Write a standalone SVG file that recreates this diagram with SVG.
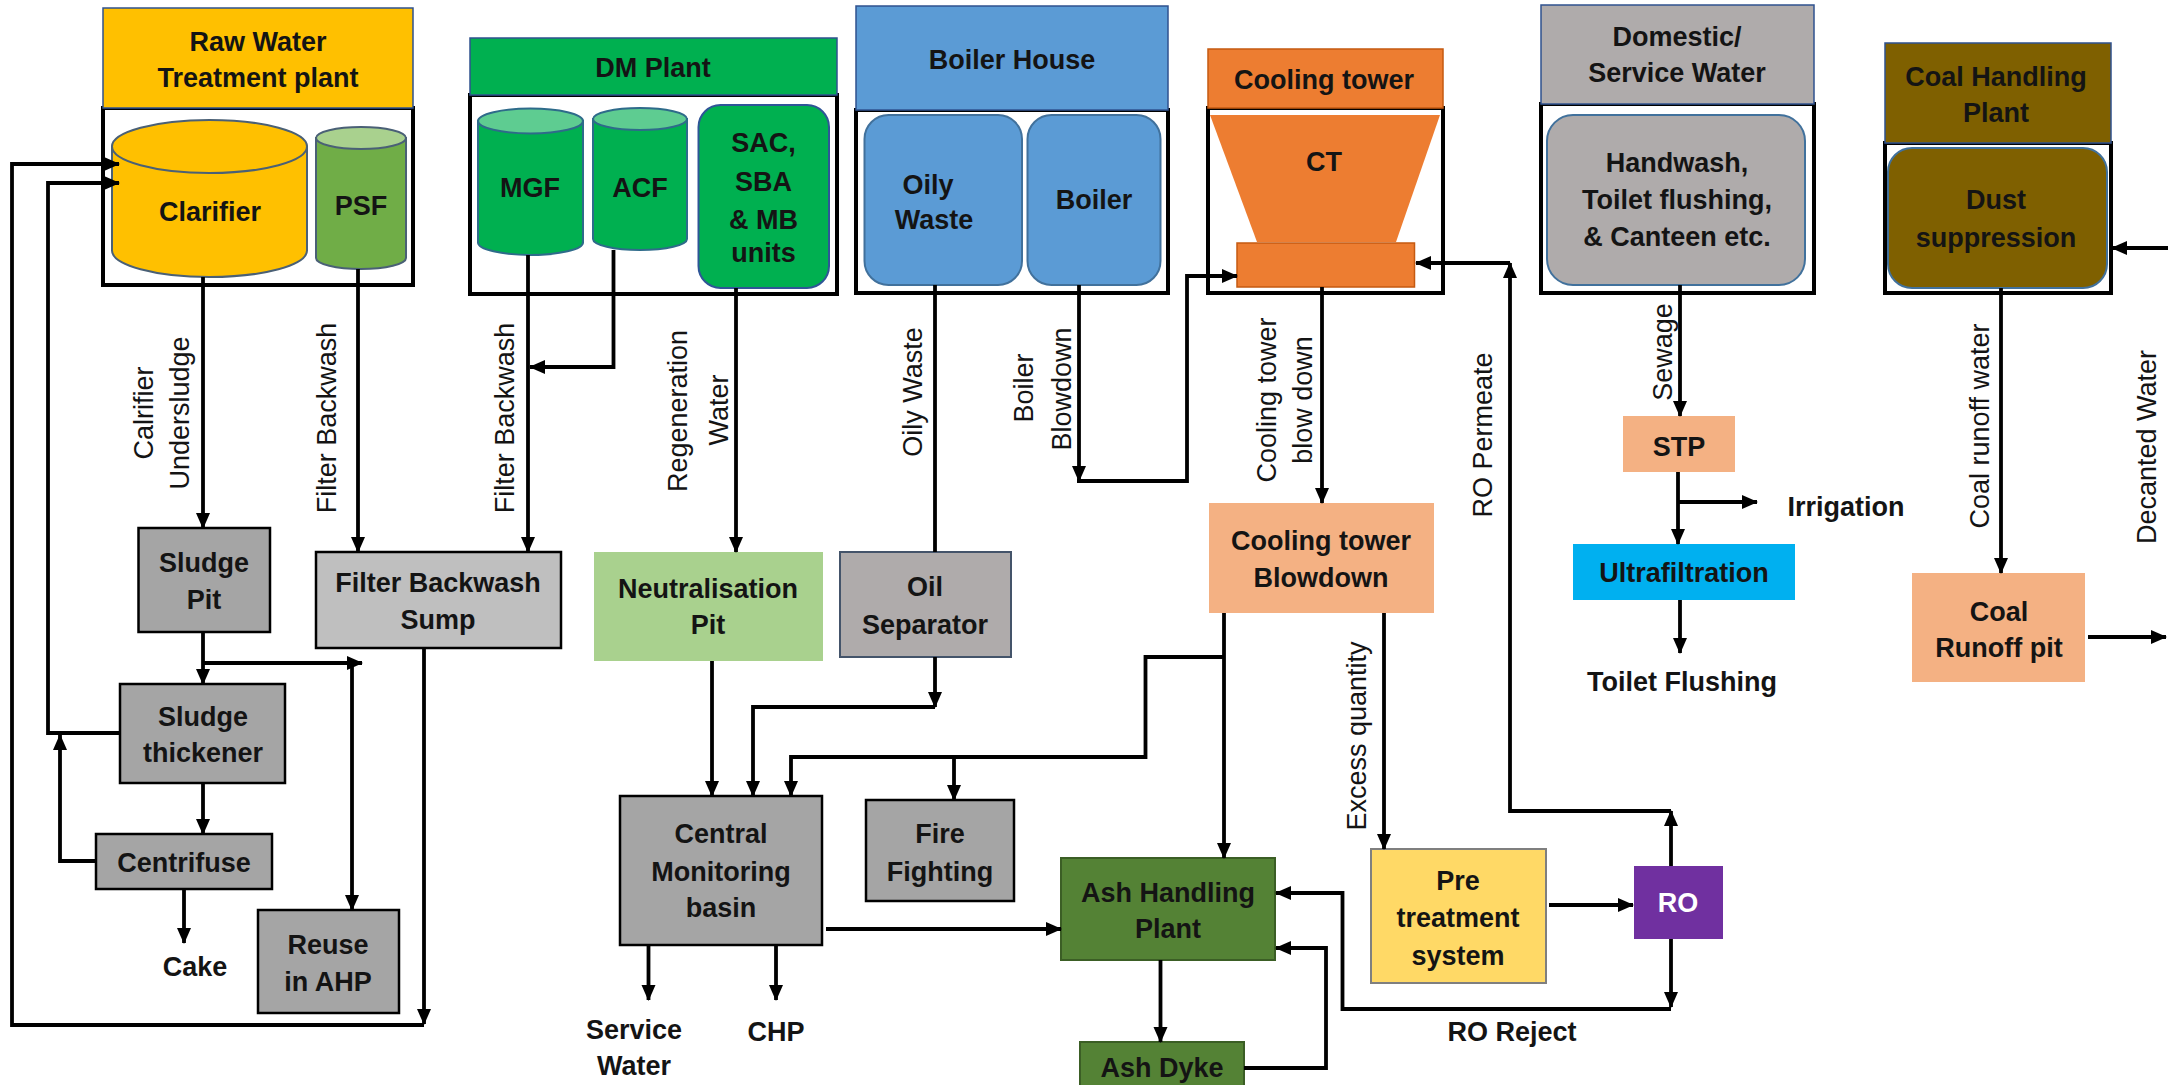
<svg xmlns="http://www.w3.org/2000/svg" width="2168" height="1085" viewBox="0 0 2168 1085">
<defs>
<marker id="ah" markerUnits="userSpaceOnUse" markerWidth="16" markerHeight="16" viewBox="0 0 16 16" refX="15" refY="8" orient="auto"><path d="M0,1 L16,8 L0,15 z" fill="#000"/></marker>
<style>
.t{font-family:"Liberation Sans",Arial,sans-serif;font-weight:bold;font-size:27px;text-anchor:middle;fill:#141414}
.l{font-family:"Liberation Sans",Arial,sans-serif;font-weight:normal;font-size:27px;text-anchor:middle;fill:#141414}
.frame{fill:#fff;stroke:#000;stroke-width:4}
.hdr{stroke:#2F528F;stroke-width:1.5}
.c{fill:none;stroke:#000;stroke-width:3.8;stroke-linejoin:miter}
.a{marker-end:url(#ah)}
.gb{fill:#A5A5A5;stroke:#000;stroke-width:2.5}
.sh{stroke:#41719C;stroke-width:2}
</style>
</defs>
<rect width="2168" height="1085" fill="#fff"/>

<g id="raw-water-plant">
<rect class="frame" x="103" y="108" width="310" height="177"/>
<rect class="hdr" x="103" y="8" width="310" height="100" fill="#FFC000"/>
<text class="t" x="258" y="51">Raw Water</text>
<text class="t" x="258" y="87">Treatment plant</text>
</g>
<g id="clarifier">
<path d="M112,146.5 L112,250.5 A97.5,26.5 0 0 0 307,250.5 L307,146.5 Z" fill="#FFC000" stroke="#4A6076" stroke-width="2"/>
<ellipse cx="209.5" cy="146.5" rx="97.5" ry="26.5" fill="#FFC000" stroke="#4A6076" stroke-width="2"/>
<text class="t" x="210" y="221">Clarifier</text>
</g>
<g id="psf">
<path d="M316,138 L316,258 A45,11 0 0 0 406,258 L406,138 Z" fill="#70AD47" stroke="#4A6076" stroke-width="2"/>
<ellipse cx="361" cy="138" rx="45" ry="11" fill="#A9D18E" stroke="#4A6076" stroke-width="2"/>
<text class="t" x="361" y="215">PSF</text>
</g>

<g id="dm-plant">
<rect class="frame" x="470" y="95" width="367" height="199"/>
<rect class="hdr" x="470" y="38" width="367" height="57" fill="#00B050"/>
<text class="t" x="653" y="77">DM Plant</text>
</g>
<g id="mgf">
<path d="M478,121 L478,242.5 A52.5,12.5 0 0 0 583,242.5 L583,121 Z" fill="#00B050" stroke="#2E6B8A" stroke-width="2"/>
<ellipse cx="530.5" cy="121" rx="52.5" ry="12.5" fill="#5ECC91" stroke="#2E6B8A" stroke-width="2"/>
<text class="t" x="530" y="197">MGF</text>
</g>
<g id="acf">
<path d="M593,119 L593,239 A47,11 0 0 0 687,239 L687,119 Z" fill="#00B050" stroke="#2E6B8A" stroke-width="2"/>
<ellipse cx="640" cy="119" rx="47" ry="11" fill="#5ECC91" stroke="#2E6B8A" stroke-width="2"/>
<text class="t" x="640" y="197">ACF</text>
</g>
<g id="sac-sba-mb">
<rect x="698.5" y="105" width="130.5" height="183" rx="22" fill="#00B050" stroke="#2F5597" stroke-width="2"/>
<text class="t" x="763.5" y="152">SAC,</text>
<text class="t" x="763.5" y="191">SBA</text>
<text class="t" x="763.5" y="229">&amp; MB</text>
<text class="t" x="763.5" y="262">units</text>
</g>

<g id="boiler-house">
<rect class="frame" x="856" y="110" width="312" height="183"/>
<rect class="hdr" x="856" y="6" width="312" height="104" fill="#5B9BD5"/>
<text class="t" x="1012" y="69">Boiler House</text>
</g>
<g id="oily-waste">
<rect class="sh" x="864.5" y="115" width="157.5" height="170" rx="24" fill="#5B9BD5"/>
<text class="t" x="928" y="194">Oily</text>
<text class="t" x="934" y="229">Waste</text>
</g>
<g id="boiler">
<rect class="sh" x="1027.5" y="115" width="133" height="170" rx="24" fill="#5B9BD5"/>
<text class="t" x="1094" y="209">Boiler</text>
</g>

<g id="cooling-tower">
<rect class="frame" x="1208" y="108" width="235" height="185"/>
<rect x="1208" y="49" width="235" height="59" fill="#ED7D31" stroke="#C55A11" stroke-width="1.5"/>
<text class="t" x="1324" y="89">Cooling tower</text>
</g>
<g id="ct">
<polygon points="1210,115 1440,115 1396,242 1257,242" fill="#ED7D31"/>
<rect x="1237" y="243" width="177.5" height="44" fill="#ED7D31" stroke="#C55A11" stroke-width="1.5"/>
<text class="t" x="1324" y="171">CT</text>
</g>

<g id="domestic-water">
<rect class="frame" x="1541" y="104" width="273" height="189"/>
<rect class="hdr" x="1541" y="5" width="273" height="99" fill="#AFABAB"/>
<text class="t" x="1677" y="46">Domestic/</text>
<text class="t" x="1677" y="82">Service Water</text>
</g>
<g id="handwash">
<rect class="sh" x="1547" y="115" width="258" height="170" rx="26" fill="#AFABAB"/>
<text class="t" x="1677" y="172">Handwash,</text>
<text class="t" x="1677" y="209">Toilet flushing,</text>
<text class="t" x="1677" y="246">&amp; Canteen etc.</text>
</g>

<g id="coal-handling-plant">
<rect class="frame" x="1885" y="143" width="226" height="150"/>
<rect class="hdr" x="1885" y="43" width="226" height="100" fill="#7F6000"/>
<text class="t" x="1996" y="86">Coal Handling</text>
<text class="t" x="1996" y="122">Plant</text>
</g>
<g id="dust-suppression">
<rect class="sh" x="1888" y="148" width="219" height="140" rx="24" fill="#7F6000"/>
<text class="t" x="1996" y="209">Dust</text>
<text class="t" x="1996" y="247">suppression</text>
</g>

<g id="sludge-pit">
<rect class="gb" x="138.5" y="528" width="131.5" height="104"/>
<text class="t" x="204" y="572">Sludge</text>
<text class="t" x="204" y="609">Pit</text>
</g>
<g id="filter-backwash-sump">
<rect x="316" y="552" width="245" height="96" fill="#BFBFBF" stroke="#000" stroke-width="2.5"/>
<text class="t" x="438" y="592">Filter Backwash</text>
<text class="t" x="438" y="629">Sump</text>
</g>
<g id="sludge-thickener">
<rect class="gb" x="120" y="684" width="165" height="99"/>
<text class="t" x="203" y="726">Sludge</text>
<text class="t" x="203" y="762">thickener</text>
</g>
<g id="centrifuse">
<rect class="gb" x="96" y="834" width="176" height="55"/>
<text class="t" x="184" y="872">Centrifuse</text>
</g>
<g id="cake"><text class="t" x="195" y="976">Cake</text></g>
<g id="reuse-ahp">
<rect class="gb" x="258" y="910" width="141" height="103"/>
<text class="t" x="328" y="954">Reuse</text>
<text class="t" x="328" y="991">in AHP</text>
</g>

<g id="neutralisation-pit">
<rect x="594" y="552" width="229" height="109" fill="#A9D18E"/>
<text class="t" x="708" y="598">Neutralisation</text>
<text class="t" x="708" y="634">Pit</text>
</g>
<g id="oil-separator">
<rect x="840" y="552" width="171" height="105" fill="#AFABAB" stroke="#44546A" stroke-width="2"/>
<text class="t" x="925" y="596">Oil</text>
<text class="t" x="925" y="634">Separator</text>
</g>
<g id="central-monitoring-basin">
<rect class="gb" x="620" y="796" width="202" height="149"/>
<text class="t" x="721" y="843">Central</text>
<text class="t" x="721" y="881">Monitoring</text>
<text class="t" x="721" y="917">basin</text>
</g>
<g id="fire-fighting">
<rect class="gb" x="866" y="800" width="148" height="101"/>
<text class="t" x="940" y="843">Fire</text>
<text class="t" x="940" y="881">Fighting</text>
</g>
<g id="service-water">
<text class="t" x="634" y="1039">Service</text>
<text class="t" x="634" y="1075">Water</text>
</g>
<g id="chp"><text class="t" x="776" y="1041">CHP</text></g>

<g id="ct-blowdown">
<rect x="1209" y="503" width="225" height="110" fill="#F4B183"/>
<text class="t" x="1321" y="550">Cooling tower</text>
<text class="t" x="1321" y="587">Blowdown</text>
</g>
<g id="ash-handling-plant">
<rect x="1061" y="858" width="214" height="102" fill="#548235" stroke="#3B5E25" stroke-width="2"/>
<text class="t" x="1168" y="902">Ash Handling</text>
<text class="t" x="1168" y="938">Plant</text>
</g>
<g id="ash-dyke">
<rect x="1080" y="1042" width="164" height="48" fill="#548235" stroke="#3B5E25" stroke-width="2"/>
<text class="t" x="1162" y="1077">Ash Dyke</text>
</g>
<g id="pre-treatment">
<rect x="1371" y="849" width="175" height="134" fill="#FFD966" stroke="#7F7F7F" stroke-width="2"/>
<text class="t" x="1458" y="890">Pre</text>
<text class="t" x="1458" y="927">treatment</text>
<text class="t" x="1458" y="965">system</text>
</g>
<g id="ro">
<rect x="1634" y="866" width="89" height="73" fill="#7030A0"/>
<text class="t" x="1678" y="912" style="fill:#fff">RO</text>
</g>
<g id="ro-reject-label"><text class="t" x="1512" y="1041">RO Reject</text></g>

<g id="stp">
<rect x="1623" y="416" width="112" height="56" fill="#F4B183"/>
<text class="t" x="1679" y="456">STP</text>
</g>
<g id="irrigation"><text class="t" x="1846" y="516">Irrigation</text></g>
<g id="ultrafiltration">
<rect x="1573" y="544" width="222" height="56" fill="#00B0F0"/>
<text class="t" x="1684" y="582">Ultrafiltration</text>
</g>
<g id="toilet-flushing"><text class="t" x="1682" y="691">Toilet Flushing</text></g>
<g id="coal-runoff-pit">
<rect x="1912" y="573" width="173" height="109" fill="#F4B183"/>
<text class="t" x="1999" y="621">Coal</text>
<text class="t" x="1999" y="657">Runoff pit</text>
</g>

<g id="connectors">
<path class="c a" d="M203,277 L203,528"/>
<path class="c a" d="M358,269 L358,552"/>
<path class="c a" d="M528,255 L528,552"/>
<path class="c a" d="M613.5,250 L613.5,367 L530,367"/>
<path class="c a" d="M736,288 L736,552"/>
<path class="c" d="M935,285 L935,552"/>
<path class="c a" d="M1079,285 L1079,481"/>
<path class="c a" d="M1077,481 L1187,481 L1187,276 L1237,276"/>
<path class="c a" d="M1322,287 L1322,503"/>
<path class="c a" d="M1671,866 L1671,811"/>
<path class="c a" d="M1671,811 L1510,811 L1510,263"/>
<path class="c a" d="M1510,263 L1416,263"/>
<path class="c a" d="M1680,285 L1680,416"/>
<path class="c a" d="M1678,472 L1678,544"/>
<path class="c a" d="M1678,502 L1757,502"/>
<path class="c a" d="M1680,600 L1680,653"/>
<path class="c a" d="M2001,288 L2001,573"/>
<path class="c a" d="M2088,637 L2166,637"/>
<path class="c a" d="M2168,248 L2112,248"/>
<path class="c a" d="M203,632 L203,684"/>
<path class="c a" d="M203,663 L362,663"/>
<path class="c a" d="M352,663 L352,910"/>
<path class="c a" d="M203,783 L203,834"/>
<path class="c a" d="M120,733 L48,733 L48,183 L119,183"/>
<path class="c a" d="M96,861 L60,861 L60,735"/>
<path class="c a" d="M184,889 L184,943"/>
<path class="c a" d="M424,648 L424,1024"/>
<path class="c a" d="M424,1025 L12,1025 L12,164 L119,164"/>
<path class="c a" d="M712,661 L712,796"/>
<path class="c a" d="M935,657 L935,707"/>
<path class="c a" d="M935,707 L753,707 L753,796"/>
<path class="c a" d="M1224,657 L1145.5,657 L1145.5,757 L791,757 L791,796"/>
<path class="c a" d="M954,757 L954,800"/>
<path class="c a" d="M1224,613 L1224,858"/>
<path class="c a" d="M1384,613 L1384,849"/>
<path class="c a" d="M826,929 L1061,929"/>
<path class="c a" d="M648.5,945 L648.5,1000"/>
<path class="c a" d="M776,945 L776,1000"/>
<path class="c a" d="M1160.5,960 L1160.5,1042"/>
<path class="c a" d="M1244,1068 L1326,1068 L1326,948 L1276,948"/>
<path class="c a" d="M1671,939 L1671,1007"/>
<path class="c a" d="M1671,1009 L1342.5,1009 L1342.5,893 L1276,893"/>
<path class="c a" d="M1549,905 L1633,905"/>
</g>

<g id="connector-labels">
<text class="l" transform="translate(143.5,413) rotate(-90)" dy="0.35em">Calrifier</text>
<text class="l" transform="translate(180,413) rotate(-90)" dy="0.35em">Undersludge</text>
<text class="l" transform="translate(327,418) rotate(-90)" dy="0.35em">Filter Backwash</text>
<text class="l" transform="translate(505,418) rotate(-90)" dy="0.35em">Filter Backwash</text>
<text class="l" transform="translate(678,411) rotate(-90)" dy="0.35em">Regeneration</text>
<text class="l" transform="translate(718.5,410) rotate(-90)" dy="0.35em">Water</text>
<text class="l" transform="translate(913,392) rotate(-90)" dy="0.35em">Oily Waste</text>
<text class="l" transform="translate(1024,388) rotate(-90)" dy="0.35em">Boiler</text>
<text class="l" transform="translate(1062,389) rotate(-90)" dy="0.35em">Blowdown</text>
<text class="l" transform="translate(1267,400) rotate(-90)" dy="0.35em">Cooling tower</text>
<text class="l" transform="translate(1303,400) rotate(-90)" dy="0.35em">blow down</text>
<text class="l" transform="translate(1483,435) rotate(-90)" dy="0.35em">RO Permeate</text>
<text class="l" transform="translate(1357,736) rotate(-90)" dy="0.35em">Excess quantity</text>
<text class="l" transform="translate(1663,352) rotate(-90)" dy="0.35em">Sewage</text>
<text class="l" transform="translate(1980,426) rotate(-90)" dy="0.35em">Coal runoff water</text>
<text class="l" transform="translate(2147,447) rotate(-90)" dy="0.35em">Decanted Water</text>
</g>
</svg>
